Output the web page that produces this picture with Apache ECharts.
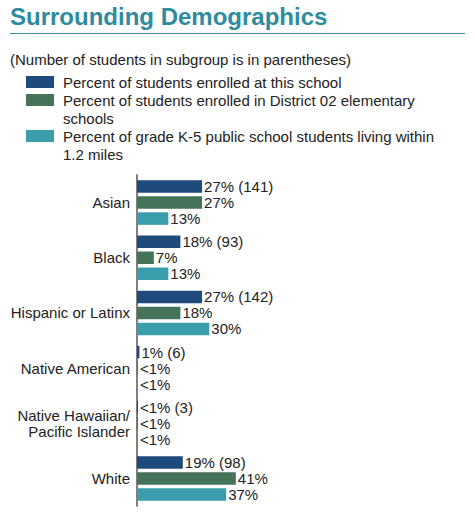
<!DOCTYPE html>
<html>
<head>
<meta charset="utf-8">
<script src="https://cdn.jsdelivr.net/npm/echarts@6/dist/echarts.min.js"></script>
<style>
  html, body { margin: 0; padding: 0; background: #fff; }
  #chart { width: 475px; height: 518px; }
</style>
</head>
<body>
<div id="chart"></div>
<script>
// categories, top to bottom
const groups = ['Asian', 'Black', 'Hispanic or Latinx', 'Native American', 'Native Hawaiian/\nPacific Islander', 'White'];

// percent values (the "<1%" ones drawn as a sliver)
const schoolPct = [27, 18, 27, 1, 0.4, 19];
const districtPct = [27, 7, 18, 0.4, 0.4, 41];
const nearbyPct = [13, 13, 30, 0.4, 0.4, 37];

// labels as printed
const schoolLabels = ['27% (141)', '18% (93)', '27% (142)', '1% (6)', '<1% (3)', '19% (98)'];
const districtLabels = ['27%', '7%', '18%', '<1%', '<1%', '41%'];
const nearbyLabels = ['13%', '13%', '30%', '<1%', '<1%', '37%'];

const seriesNames = [
    'Percent of students enrolled at this school',
    'Percent of students enrolled in District 02 elementary\nschools',
    'Percent of grade K-5 public school students living within\n1.2 miles'
];
const colors = ['#1f4a7c', '#44735a', '#3a9dab'];

const chart = echarts.init(document.getElementById('chart'), null, { renderer: 'svg' });

const font = 'Arial, "Liberation Sans", sans-serif';

const makeSeries = (i, values, labels) => ({
    name: seriesNames[i],
    type: 'bar',
    data: values,
    barWidth: 12.5,
    barGap: '28%',
    itemStyle: { color: colors[i] },
    silent: true,
    label: {
        show: true,
        position: 'right',
        distance: 2,
        color: '#222',
        fontSize: 15,
        fontFamily: font,
        formatter: (p) => labels[p.dataIndex]
    }
});

// legend drawn as graphic so the icon sits on the first line of wrapped text
const legendTops = [76, 94, 130];
const legendGraphics = [];
seriesNames.forEach((name, i) => {
    legendGraphics.push({
        type: 'rect',
        left: 26,
        top: legendTops[i],
        shape: { width: 28, height: 12 },
        style: { fill: colors[i] }
    });
    legendGraphics.push({
        type: 'text',
        left: 63,
        top: legendTops[i] - 3,
        style: {
            text: name,
            fill: '#222',
            font: '15px ' + font,
            lineHeight: 18
        }
    });
});

const option = {
    backgroundColor: '#fff',
    animation: false,
    title: {
        text: 'Surrounding Demographics',
        left: 10,
        top: 4,
        padding: 0,
        textStyle: {
            color: '#2e8c9e',
            fontSize: 24,
            fontWeight: 'bold',
            fontFamily: font
        }
    },
    graphic: [
        {
            type: 'line',
            shape: { x1: 10, y1: 33.5, x2: 465, y2: 33.5 },
            style: { stroke: '#3d8fa0', lineWidth: 1 }
        },
        {
            type: 'text',
            left: 10,
            top: 52,
            style: {
                text: '(Number of students in subgroup is in parentheses)',
                fill: '#222',
                font: '15px ' + font
            }
        },
        ...legendGraphics
    ],
    grid: {
        left: 137,
        top: 175,
        width: 241,
        height: 331
    },
    xAxis: {
        type: 'value',
        min: 0,
        max: 100,
        show: false
    },
    yAxis: {
        type: 'category',
        data: groups,
        inverse: true,
        offset: 1,
        axisLine: { show: true, lineStyle: { color: '#808080', width: 2 } },
        axisTick: { show: false },
        axisLabel: {
            color: '#222',
            fontSize: 15,
            fontFamily: font,
            margin: 6,
            lineHeight: 16,
            align: 'right'
        }
    },
    series: [
        makeSeries(0, schoolPct, schoolLabels),
        makeSeries(1, districtPct, districtLabels),
        makeSeries(2, nearbyPct, nearbyLabels)
    ]
};

chart.setOption(option);
</script>
</body>
</html>
